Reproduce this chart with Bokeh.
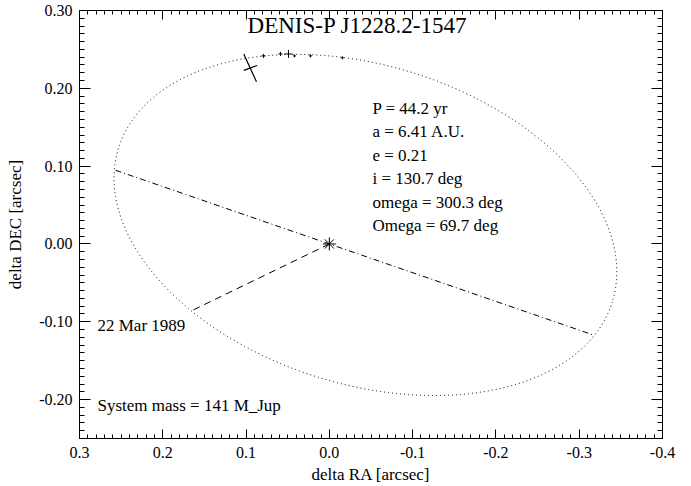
from bokeh.plotting import figure
from bokeh.models import Range1d, LinearAxis, FixedTicker, Label
from bokeh.embed import file_html
from bokeh.resources import INLINE

# ---------------- data ----------------
x_ticks = [0.3, 0.2, 0.1, 0.0, -0.1, -0.2, -0.3, -0.4]
x_tick_labels = ["0.3", "0.2", "0.1", "0.0", "-0.1", "-0.2", "-0.3", "-0.4"]
y_ticks = [0.30, 0.20, 0.10, 0.00, -0.10, -0.20]
y_tick_labels = ["0.30", "0.20", "0.10", "0.00", "-0.10", "-0.20"]

# apparent orbit (ellipse): centre, full width (RA), full height (DEC), tilt
orbit_cx = [-0.0433]
orbit_cy = [0.0244]
orbit_w = [0.621]
orbit_h = [0.410]
orbit_tilt = [-0.302]

# line of nodes (dash-dot)
nodes_x = [0.2568, -0.317]
nodes_y = [0.0947, -0.117]
# periastron line (dashed)
peri_x = [0.0, 0.1667]
peri_y = [0.0, -0.0865]

# measured positions
obs_x = [0.0791, 0.0587, 0.0491, 0.0419, 0.0227, -0.0157]
obs_y = [0.2417, 0.2442, 0.2442, 0.2417, 0.2417, 0.2392]
obs_size = [4, 4, 8, 3, 3, 3]

# large error cross of the first epoch
err_x0 = [0.1028, 0.1028]
err_y0 = [0.2442, 0.2231]
err_x1 = [0.0875, 0.0867]
err_y1 = [0.2084, 0.2294]

title_text = "DENIS-P J1228.2-1547"
params = ["P = 44.2 yr", "a = 6.41 A.U.", "e = 0.21", "i = 130.7 deg",
          "omega = 300.3 deg", "Omega = 69.7 deg"]
peri_date = "22 Mar 1989"
mass_text = "System mass = 141 M_Jup"

# ---------------- figure ----------------
FONT = "Liberation Serif"

p = figure(width=691, height=486,
           x_range=Range1d(0.3, -0.4), y_range=Range1d(-0.25, 0.30),
           output_backend="svg", toolbar_location=None,
           min_border_left=79, min_border_right=29,
           min_border_top=10, min_border_bottom=46,
           x_axis_label="delta RA [arcsec]", y_axis_label="delta DEC [arcsec]")
p.grid.visible = False
p.outline_line_color = "black"
p.background_fill_color = "white"
p.border_fill_color = "white"

x_minor = [round(0.3 - 0.01 * k, 2) for k in range(71)]
y_minor = [round(0.30 - 0.01 * k, 2) for k in range(56)]


def style_axis(ax, ticks, minor, labels, tick_in, minor_in, show_labels):
    ax.ticker = FixedTicker(ticks=ticks, minor_ticks=minor)
    ax.major_tick_in = tick_in
    ax.major_tick_out = 0
    ax.minor_tick_in = minor_in
    ax.minor_tick_out = 0
    ax.axis_line_color = "black"
    ax.major_tick_line_color = "black"
    ax.minor_tick_line_color = "black"
    if show_labels:
        ax.major_label_overrides = dict(zip(ticks, labels))
        ax.major_label_text_font = FONT
        ax.major_label_text_font_size = "16px"
        ax.major_label_text_color = "black"
        ax.axis_label_text_font = FONT
        ax.axis_label_text_font_size = "17px"
        ax.axis_label_text_font_style = "normal"
        ax.axis_label_text_color = "black"
    else:
        ax.major_label_text_color = None
        ax.major_label_text_font_size = "1px"
        ax.major_label_standoff = 0


style_axis(p.xaxis[0], x_ticks, x_minor, x_tick_labels, 9, 4, True)
style_axis(p.yaxis[0], y_ticks, y_minor, y_tick_labels, 11, 5, True)
p.xaxis[0].major_label_standoff = 8
p.xaxis[0].axis_label_standoff = 4
p.yaxis[0].major_label_standoff = 7
p.yaxis[0].axis_label_standoff = 11

top = LinearAxis()
style_axis(top, x_ticks, x_minor, x_tick_labels, 9, 4, False)
p.add_layout(top, "above")
right = LinearAxis()
style_axis(right, y_ticks, y_minor, y_tick_labels, 11, 5, False)
p.add_layout(right, "right")

# orbit
p.ellipse(x=orbit_cx, y=orbit_cy, width=orbit_w, height=orbit_h, angle=orbit_tilt,
          fill_color=None, line_color="black", line_width=1, line_dash="1 3")
# node line and periastron line
p.line(nodes_x, nodes_y, line_color="black", line_width=1, line_dash="6 3 1 3")
p.line(peri_x, peri_y, line_color="black", line_width=1, line_dash="7 5")
# primary
p.scatter([0.0], [0.0], marker="asterisk", size=13, line_color="black", line_width=1)
# observations
p.scatter(obs_x, obs_y, marker="cross", size=obs_size, line_color="black", line_width=1)
p.segment(err_x0, err_y0, err_x1, err_y1, line_color="black", line_width=1.2)

# texts
p.add_layout(Label(x=-0.0337, y=0.2808, text=title_text, text_font=FONT,
                   text_font_size="23px", text_align="center",
                   text_baseline="alphabetic", text_color="black"))
for k, t in enumerate(params):
    p.add_layout(Label(x=-0.0517, y=0.1747 - 0.0303 * k, text=t, text_font=FONT,
                       text_font_size="17px", text_align="left",
                       text_baseline="alphabetic", text_color="black"))
p.add_layout(Label(x=0.2784, y=-0.1042, text=peri_date, text_font=FONT,
                   text_font_size="17px", text_baseline="alphabetic", text_color="black"))
p.add_layout(Label(x=0.2784, y=-0.2078, text=mass_text, text_font=FONT,
                   text_font_size="17px", text_baseline="alphabetic", text_color="black"))

open("out.html", "w").write(file_html(p, INLINE))
